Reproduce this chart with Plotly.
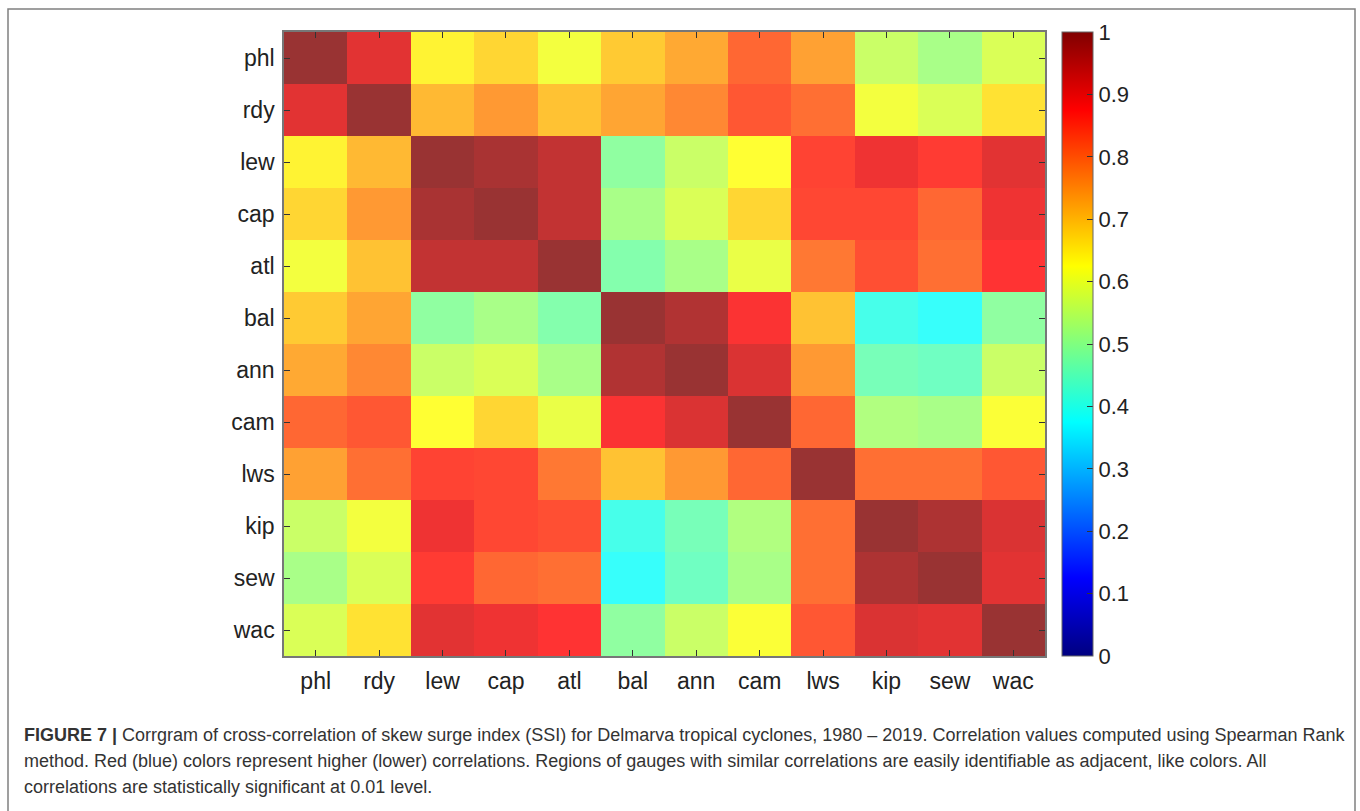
import plotly.graph_objects as go

gauges = ["phl", "rdy", "lew", "cap", "atl", "bal", "ann", "cam", "lws", "kip", "sew", "wac"]

phl = [1.00, 0.91, 0.64, 0.675, 0.61, 0.69, 0.73, 0.81, 0.74, 0.56, 0.52, 0.58]
rdy = [0.91, 1.00, 0.71, 0.75, 0.70, 0.735, 0.77, 0.83, 0.80, 0.61, 0.58, 0.66]
lew = [0.64, 0.71, 1.00, 0.98, 0.95, 0.49, 0.56, 0.625, 0.855, 0.895, 0.865, 0.91]
cap = [0.675, 0.75, 0.98, 1.00, 0.95, 0.52, 0.58, 0.675, 0.85, 0.85, 0.81, 0.895]
atl = [0.61, 0.70, 0.95, 0.95, 1.00, 0.475, 0.52, 0.60, 0.79, 0.84, 0.80, 0.875]
bal = [0.69, 0.735, 0.49, 0.52, 0.475, 1.00, 0.97, 0.88, 0.70, 0.40, 0.38, 0.49]
ann = [0.73, 0.77, 0.56, 0.58, 0.52, 0.97, 1.00, 0.92, 0.75, 0.46, 0.45, 0.56]
cam = [0.81, 0.83, 0.625, 0.675, 0.60, 0.88, 0.92, 1.00, 0.81, 0.53, 0.52, 0.62]
lws = [0.74, 0.80, 0.855, 0.85, 0.79, 0.70, 0.75, 0.81, 1.00, 0.80, 0.80, 0.83]
kip = [0.56, 0.61, 0.895, 0.85, 0.84, 0.40, 0.46, 0.53, 0.80, 1.00, 0.975, 0.92]
sew = [0.52, 0.58, 0.865, 0.81, 0.80, 0.38, 0.45, 0.52, 0.80, 0.975, 1.00, 0.91]
wac = [0.58, 0.66, 0.91, 0.895, 0.875, 0.49, 0.56, 0.62, 0.83, 0.92, 0.91, 1.00]

corr = [phl, rdy, lew, cap, atl, bal, ann, cam, lws, kip, sew, wac]

cbar_ticks = [0, 0.1, 0.2, 0.3, 0.4, 0.5, 0.6, 0.7, 0.8, 0.9, 1]
cbar_labels = ["0", "0.1", "0.2", "0.3", "0.4", "0.5", "0.6", "0.7", "0.8", "0.9", "1"]

caption_lines = [
    "<b>FIGURE 7 |</b> Corrgram of cross-correlation of skew surge index (SSI) for Delmarva tropical cyclones, 1980 \u2013 2019. Correlation values computed using Spearman Rank",
    "method. Red (blue) colors represent higher (lower) correlations. Regions of gauges with similar correlations are easily identifiable as adjacent, like colors. All",
    "correlations are statistically significant at 0.01 level.",
]

jet = [
    [0.0, "rgb(0,0,128)"],
    [0.125, "rgb(0,0,255)"],
    [0.375, "rgb(0,255,255)"],
    [0.625, "rgb(255,255,0)"],
    [0.875, "rgb(255,0,0)"],
    [1.0, "rgb(128,0,0)"],
]

W, H = 1360, 811
L, R, T, B = 284, 1045, 32, 656


def px(x):
    return (x - L) / (R - L)


def py(y):
    return (B - y) / (B - T)


font_main = "Liberation Sans, Arial, sans-serif"

fig = go.Figure()
fig.add_trace(go.Heatmap(
    z=corr, x=gauges, y=gauges,
    colorscale=jet, zmin=0, zmax=1,
    opacity=0.8, showscale=False,
    hovertemplate="%{y} / %{x}: %{z:.2f}<extra></extra>",
))
fig.add_trace(go.Scatter(
    x=[None], y=[None], mode="markers",
    marker=dict(
        color=[0.5], colorscale=jet, cmin=0, cmax=1, showscale=True,
        colorbar=dict(
            x=px(1062), xanchor="left", xref="paper",
            y=py(656), yanchor="bottom", yref="paper",
            len=1.0, lenmode="fraction",
            thickness=31, thicknessmode="pixels",
            outlinewidth=1, outlinecolor="#666666",
            tickvals=cbar_ticks, ticktext=cbar_labels,
            ticks="inside", ticklen=6, tickcolor="#333333",
            tickfont=dict(family=font_main, size=22, color="#222222"),
            ypad=0, xpad=0,
        ),
    ),
    showlegend=False, hoverinfo="skip",
))

axis_common = dict(
    showline=True, linecolor="#777777", linewidth=1.5, mirror="ticks",
    ticks="inside", ticklen=6, tickcolor="#333333", tickwidth=1,
    showgrid=False, zeroline=False,
    tickfont=dict(family=font_main, size=23, color="#222222"),
)

fig.update_xaxes(**axis_common, categoryorder="array", categoryarray=gauges,
                 ticklabelstandoff=4)
fig.update_yaxes(**axis_common, categoryorder="array", categoryarray=gauges,
                 autorange="reversed", ticklabelstandoff=3)

annotations = []
for i, line in enumerate(caption_lines):
    annotations.append(dict(
        text=line, xref="paper", yref="paper",
        x=px(22), y=py(735 + 26 * i), xanchor="left", yanchor="middle",
        showarrow=False, align="left",
        font=dict(family="Liberation Sans Narrow, Liberation Sans, Arial", size=18, color="#333333"),
    ))

fig.update_layout(
    width=W, height=H,
    margin=dict(l=L, r=W - R, t=T, b=H - B),
    paper_bgcolor="white", plot_bgcolor="white",
    annotations=annotations,
    shapes=[dict(
        type="rect", xref="paper", yref="paper",
        x0=px(8), x1=px(1355), y0=py(820), y1=py(9),
        line=dict(color="#808080", width=1.5), fillcolor="rgba(0,0,0,0)", layer="below",
    )],
)

fig.write_html("out.html")
